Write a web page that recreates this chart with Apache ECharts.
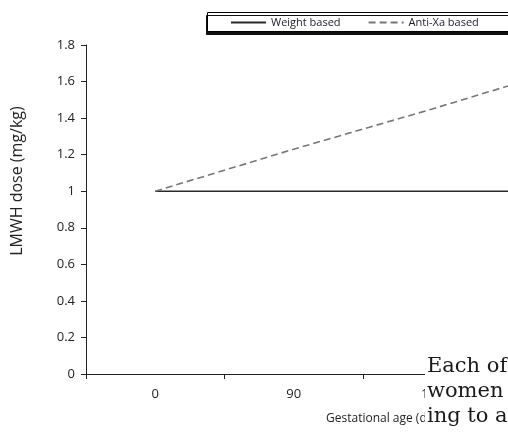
<!DOCTYPE html>
<html><head><meta charset="utf-8">
<style>html,body{margin:0;padding:0;background:#fff}#c{width:508px;height:432px}</style>
<script src="https://cdn.jsdelivr.net/npm/echarts@6/dist/echarts.min.js"></script>
</head><body><div id="c"></div>
<script>
var categories = ['0', '90', '180', '270'];
var weightBased = [1, 1, 1, 1];
var antiXaBased = [1, 1.23, 1.45, 1.68];
var yTicks = [0, 0.2, 0.4, 0.6, 0.8, 1, 1.2, 1.4, 1.6, 1.8];
var captionLines = ['Each of', 'women', 'ing to a'];

var chart = echarts.init(document.getElementById('c'));
var font = 'Open Sans';
chart.setOption({
  animation: false,
  grid: {left: 86, top: 45, width: 554, height: 329, containLabel: false, outerBoundsMode: 'none'},
  legend: {
    left: 207, top: 12, orient: 'horizontal', width: 600,
    padding: [5, 0, 5, 23],
    itemWidth: 35, itemHeight: 10, itemGap: 27,
    itemStyle: {opacity: 0},
    textStyle: {fontFamily: font, fontSize: 11, color: '#1c1c2a'},
    data: ['Weight based', 'Anti-Xa based'],
    z: 10
  },
  xAxis: {
    type: 'category', data: categories, boundaryGap: true,
    axisLine: {lineStyle: {color: '#222', width: 1}},
    axisTick: {show: true, length: 5, lineStyle: {color: '#222'}},
    axisLabel: {fontFamily: font, fontSize: 13, color: '#222', margin: 14},
    splitLine: {show: false}
  },
  yAxis: {
    type: 'value', min: yTicks[0], max: yTicks[yTicks.length-1], interval: 0.2,
    axisLine: {show: true, lineStyle: {color: '#222', width: 1}},
    axisTick: {show: true, length: 5, lineStyle: {color: '#222'}},
    axisLabel: {fontFamily: font, fontSize: 13, color: '#222', margin: 11,
      formatter: function(v){ return String(Math.round(v*10)/10); }},
    splitLine: {show: false}
  },
  series: [
    {name: 'Weight based', type: 'line', data: weightBased, symbol: 'none',
     lineStyle: {color: '#2a2a2a', width: 1.6, type: 'solid'}, itemStyle: {color: '#2a2a2a'}},
    {name: 'Anti-Xa based', type: 'line', data: antiXaBased, symbol: 'none',
     lineStyle: {color: '#777', width: 1.6, type: [7, 4]}, itemStyle: {color: '#777'}}
  ],
  graphic: [
    {type: 'rect', shape: {x: 207.5, y: 12.5, width: 380, height: 19}, z: 1,
     style: {fill: '#fff', stroke: '#000', lineWidth: 1, shadowColor: '#111', shadowOffsetX: -1, shadowOffsetY: 3, shadowBlur: 0}},
    {type: 'text', x: 17, y: 181, rotation: Math.PI/2,
     style: {text: 'LMWH dose (mg/kg)', fontFamily: font, fontSize: 16, fill: '#222',
       textAlign: 'center', textVerticalAlign: 'middle'}},
    {type: 'text', x: 326, y: 419,
     style: {text: 'Gestational age (days)', fontFamily: font, fontSize: 12, fill: '#222',
       textAlign: 'left', textVerticalAlign: 'middle'}},
    {type: 'rect', shape: {x: 425, y: 350, width: 90, height: 90}, style: {fill: '#fff'}, z: 100},
    {type: 'text', x: 427, y: 367, z: 101,
     style: {text: captionLines[0], fontFamily: 'DejaVu Serif', fontSize: 21, fill: '#1a1a1a', textVerticalAlign: 'middle'}},
    {type: 'text', x: 427, y: 392, z: 101,
     style: {text: captionLines[1], fontFamily: 'DejaVu Serif', fontSize: 21, fill: '#1a1a1a', textVerticalAlign: 'middle'}},
    {type: 'text', x: 427, y: 417, z: 101,
     style: {text: captionLines[2], fontFamily: 'DejaVu Serif', fontSize: 21, fill: '#1a1a1a', textVerticalAlign: 'middle'}}
  ]
});
</script></body></html>
